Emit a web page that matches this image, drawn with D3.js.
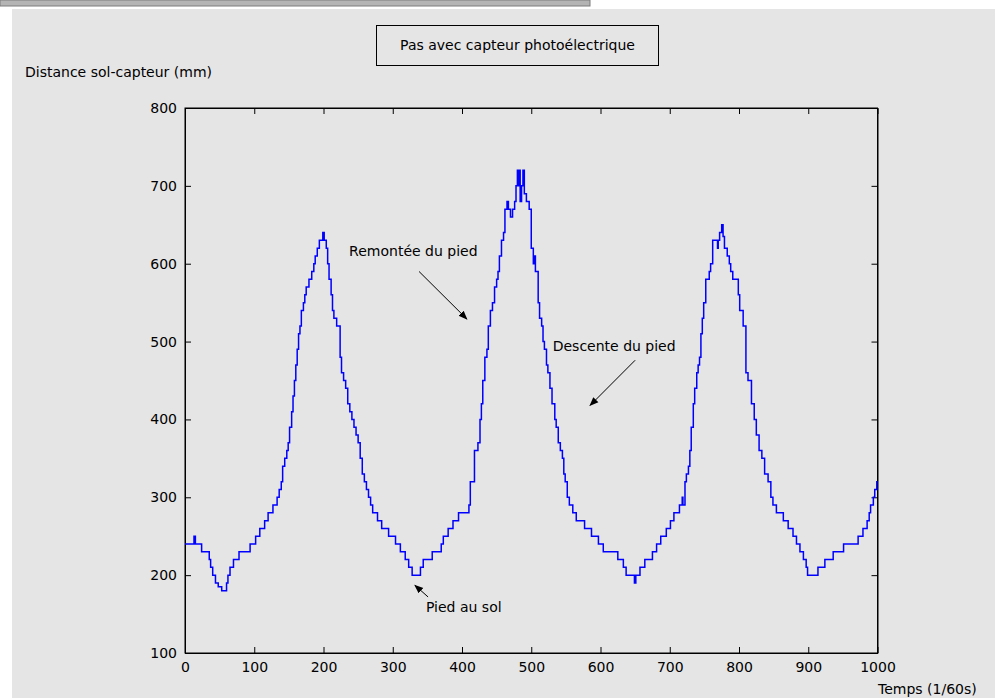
<!DOCTYPE html>
<meta charset="utf-8">
<title>Pas avec capteur photoélectrique</title>
<style>

body {
  margin: 0;
  background: #fff;
}

text {
  font-family: "DejaVu Sans", sans-serif;
  font-size: 14px;
  fill: #000;
}

.curve {
  fill: none;
  stroke: #0000ff;
  stroke-width: 1.5;
}

.axis path, .axis line {
  stroke: #000;
}

</style>
<body>

<script src="https://d3js.org/d3.v7.min.js"></script>

<script>

// time (1/60 s) at which each step of the sensor reading starts
var stepTime = [
  0, 13, 15, 24, 35, 37, 40, 44, 48, 53, 60, 62, 65, 70, 78, 94, 102, 108, 115, 120, 127, 133,
  136, 139, 141, 144, 147, 149, 151, 154, 156, 158, 160, 162, 164, 166, 168, 171, 173, 175, 179,
  183, 186, 188, 191, 194, 199, 201, 204, 206, 208, 211, 213, 215, 219, 224, 226, 229, 232, 235,
  238, 241, 244, 247, 250, 253, 256, 259, 262, 265, 268, 271, 278, 284, 294, 304, 311, 318, 323,
  328, 340, 344, 357, 370, 373, 380, 387, 395, 410, 412, 418, 423, 426, 428, 430, 433, 436, 438,
  441, 444, 447, 450, 452, 454, 457, 460, 462, 465, 467, 470, 473, 476, 478, 480, 481, 482, 484,
  486, 488, 490, 493, 497, 500, 503, 505, 506, 510, 512, 515, 517, 519, 522, 524, 527, 530, 534,
  536, 539, 542, 545, 547, 549, 552, 555, 560, 565, 577, 587, 597, 604, 625, 633, 637, 649, 651,
  657, 664, 675, 681, 687, 695, 701, 706, 714, 718, 719, 722, 724, 727, 729, 731, 734, 736, 739,
  741, 743, 745, 747, 749, 752, 757, 759, 762, 769, 770, 772, 775, 777, 779, 783, 786, 788, 791,
  799, 801, 806, 810, 813, 818, 822, 825, 829, 833, 837, 842, 846, 849, 854, 864, 871, 878, 883,
  888, 893, 897, 899, 914, 924, 936, 951, 972, 979, 985, 988, 990, 994, 996, 999, 1000
];

// distance floor-sensor (mm) held from that time on
var stepDist = [
  240, 250, 240, 230, 220, 210, 200, 190, 185, 180, 190, 200, 210, 220, 230, 240, 250, 260, 270, 280, 290, 300,
  310, 320, 340, 350, 360, 370, 390, 410, 430, 450, 470, 490, 510, 520, 540, 550, 560, 570, 580,
  590, 600, 610, 620, 630, 640, 630, 620, 600, 580, 560, 540, 530, 520, 480, 460, 450, 440, 420,
  410, 400, 390, 380, 370, 350, 330, 320, 310, 300, 290, 280, 270, 260, 250, 240, 230, 220, 210,
  200, 210, 220, 230, 240, 250, 260, 270, 280, 290, 320, 360, 370, 400, 420, 450, 480, 490, 520,
  540, 550, 570, 580, 590, 610, 630, 640, 670, 680, 670, 660, 670, 680, 700, 720, 700, 720, 680,
  700, 720, 690, 680, 670, 620, 600, 610, 590, 550, 530, 520, 500, 490, 470, 460, 440, 420, 400,
  390, 370, 360, 350, 330, 320, 300, 290, 280, 270, 260, 250, 240, 230, 220, 210, 200, 190, 200,
  210, 220, 230, 240, 250, 260, 270, 280, 290, 300, 290, 320, 330, 340, 360, 390, 420, 440, 460,
  470, 480, 510, 530, 550, 580, 590, 600, 630, 620, 630, 640, 650, 635, 620, 610, 600, 590, 580,
  560, 540, 520, 460, 450, 420, 400, 380, 360, 350, 330, 320, 300, 290, 280, 270, 260, 250, 240,
  230, 220, 210, 200, 210, 220, 230, 240, 250, 260, 270, 280, 290, 300, 310, 320, 320
];

var xTicks = [0, 100, 200, 300, 400, 500, 600, 700, 800, 900, 1000];
var yTicks = [100, 200, 300, 400, 500, 600, 700, 800];

// annotations, in data units (time, distance)
var noteText  = ["Remontée du pied", "Descente du pied", "Pied au sol"];
var noteAt    = [[237, 616], [531, 494], [348, 159]];
var arrowFrom = [[338, 590], [650, 476], [351, 172]];
var arrowTo   = [[407, 529], [585, 418], [332, 187]];

var W = 1000, H = 698;

var svg = d3.select("body").append("svg")
    .attr("width", W)
    .attr("height", H);

// window strip at the top, then the grey figure area
svg.append("rect")
    .attr("x", 0).attr("y", 0)
    .attr("width", 590).attr("height", 6)
    .attr("fill", "#b4b4b4")
    .attr("stroke", "#7c7c7c");
svg.append("rect")
    .attr("x", 12).attr("y", 9)
    .attr("width", 983).attr("height", H - 9)
    .attr("fill", "#e5e5e5");

var x = d3.scaleLinear().domain([0, 1000]).range([185, 877.5]);
var y = d3.scaleLinear().domain([100, 800]).range([653, 108]);

var defs = svg.append("defs");
defs.append("marker")
    .attr("id", "head")
    .attr("viewBox", "0 0 10 10")
    .attr("refX", 9).attr("refY", 5)
    .attr("markerWidth", 9).attr("markerHeight", 9)
    .attr("markerUnits", "userSpaceOnUse")
    .attr("orient", "auto")
  .append("path")
    .attr("d", "M0,1L10,5L0,9Z")
    .attr("fill", "#000");

// plot box with inward ticks on all four sides
svg.append("rect")
    .attr("x", x(0)).attr("y", y(800))
    .attr("width", x(1000) - x(0)).attr("height", y(100) - y(800))
    .attr("fill", "none")
    .attr("stroke", "#000");

svg.append("g")
    .attr("class", "axis")
    .attr("transform", "translate(0," + y(100) + ")")
    .call(d3.axisBottom(x).tickValues(xTicks).tickFormat(d3.format("d"))
      .tickSizeInner(-6).tickSizeOuter(0).tickPadding(9));

svg.append("g")
    .attr("class", "axis")
    .attr("transform", "translate(0," + y(800) + ")")
    .call(d3.axisTop(x).tickValues(xTicks).tickSizeInner(-6).tickSizeOuter(0).tickFormat(""));

svg.append("g")
    .attr("class", "axis")
    .attr("transform", "translate(" + x(0) + ",0)")
    .call(d3.axisLeft(y).tickValues(yTicks).tickFormat(d3.format("d"))
      .tickSizeInner(-6).tickSizeOuter(0).tickPadding(8));

svg.append("g")
    .attr("class", "axis")
    .attr("transform", "translate(" + x(1000) + ",0)")
    .call(d3.axisRight(y).tickValues(yTicks).tickSizeInner(-6).tickSizeOuter(0).tickFormat(""));

svg.selectAll(".axis text").attr("fill", "#000");

// the signal, drawn as a staircase
var points = stepTime.map(function(t, i) { return [t, stepDist[i]]; });

var line = d3.line()
    .x(function(d) { return x(d[0]); })
    .y(function(d) { return y(d[1]); })
    .curve(d3.curveStepAfter);

svg.append("path")
    .datum(points)
    .attr("class", "curve")
    .attr("d", line);

// title in its box
var title = svg.append("g");
title.append("rect")
    .attr("x", 376.5).attr("y", 25.5)
    .attr("width", 282).attr("height", 40)
    .attr("fill", "none")
    .attr("stroke", "#000");
title.append("text")
    .attr("x", 517.5).attr("y", 50)
    .attr("text-anchor", "middle")
    .text("Pas avec capteur photoélectrique");

svg.append("text")
    .attr("x", 25).attr("y", 77)
    .text("Distance sol-capteur (mm)");

svg.append("text")
    .attr("x", 878).attr("y", 694)
    .text("Temps (1/60s)");

// annotations
svg.append("g").selectAll("text")
    .data(noteText)
    .enter().append("text")
    .attr("x", function(d, i) { return x(noteAt[i][0]); })
    .attr("y", function(d, i) { return y(noteAt[i][1]); })
    .attr("dy", "0.35em")
    .text(function(d) { return d; });

svg.append("g").selectAll("line")
    .data(arrowFrom)
    .enter().append("line")
    .attr("x1", function(d) { return x(d[0]); })
    .attr("y1", function(d) { return y(d[1]); })
    .attr("x2", function(d, i) { return x(arrowTo[i][0]); })
    .attr("y2", function(d, i) { return y(arrowTo[i][1]); })
    .attr("stroke", "#000")
    .attr("stroke-width", 1)
    .attr("marker-end", "url(#head)");

</script>
</body>
